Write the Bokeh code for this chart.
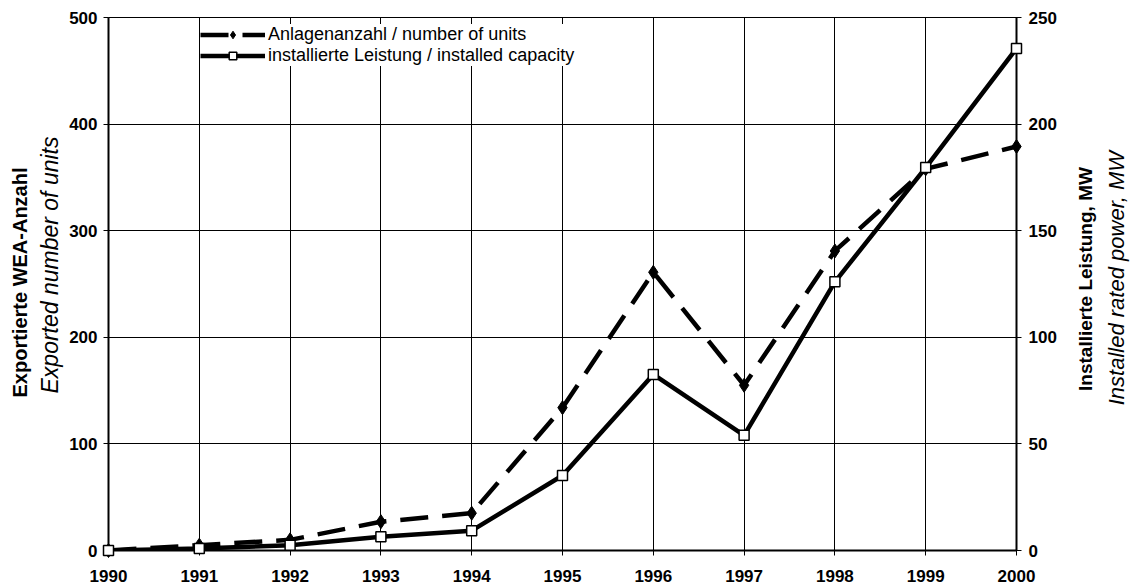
import math
from bokeh.plotting import figure
from bokeh.layouts import row
from bokeh.models import Range1d, LinearAxis, Legend, LegendItem, FixedTicker, Title, Label
from bokeh.embed import file_html
from bokeh.resources import INLINE

# ---- data ----
years = [1990, 1991, 1992, 1993, 1994, 1995, 1996, 1997, 1998, 1999, 2000]
units = [0, 5, 10, 27, 35, 134, 261, 155, 281, 358, 379]
capacity = [0, 0.9, 2.5, 6.4, 9.3, 35.2, 82.6, 54, 126, 179.6, 235.5]
left_ticks = [0, 100, 200, 300, 400, 500]
right_ticks = [0, 50, 100, 150, 200, 250]
label_units = "Anlagenanzahl / number of units"
label_capacity = "installierte Leistung / installed capacity"
left_title_de = "Exportierte WEA-Anzahl"
left_title_en = "Exported number of units"
right_title_de = "Installierte Leistung, MW"
right_title_en = "Installed rated power, MW"

FONT = "Liberation Sans"
TICK_FS = "17px"
W, H = 1131, 587
FL, FT, FW, FH = 108, 17, 908, 533   # frame position / size in page pixels
PW = 1062                             # width of the main figure; the rest holds right titles

p = figure(width=PW, height=H, output_backend="svg", toolbar_location=None,
           x_range=Range1d(years[0], years[-1]), y_range=Range1d(0, 500),
           min_border_left=FL, min_border_right=PW - FL - FW, min_border_top=FT,
           min_border_bottom=H - FT - FH)
p.extra_y_ranges = {"mw": Range1d(0, 250)}

# lines
r_units_line = p.line(years, units, line_color="black", line_width=4.5, line_dash="28 14")
r_units_pts = p.scatter(years, units, marker="diamond", size=14, fill_color="black",
                        line_color="black", level="overlay")
r_cap_line = p.line(years, capacity, y_range_name="mw", line_color="black", line_width=4.5)
r_cap_pts = p.scatter(years, capacity, y_range_name="mw", marker="square", size=10,
                      fill_color="white", line_color="black", line_width=1.5,
                      level="overlay")

# axes
xa = p.xaxis[0]
xa.ticker = FixedTicker(ticks=years)
ya = p.yaxis[0]
ya.ticker = FixedTicker(ticks=left_ticks)
ra = LinearAxis(y_range_name="mw", ticker=FixedTicker(ticks=right_ticks))
p.add_layout(ra, "right")
for ax in (xa, ya, ra):
    ax.major_label_text_font = FONT
    ax.major_label_text_font_size = TICK_FS
    ax.major_label_text_font_style = "bold"
    ax.major_label_text_color = "black"
    ax.axis_line_color = "black"
    ax.axis_line_width = 2
    ax.major_tick_line_color = "black"
    ax.major_tick_line_width = 1
    ax.major_tick_out = 5
    ax.major_tick_in = 0
    ax.minor_tick_line_color = None
ra.major_tick_in = 5
ya.major_label_standoff = 6
ra.major_label_standoff = 7
xa.major_label_standoff = 14

p.xgrid.ticker = FixedTicker(ticks=years)
p.ygrid.ticker = FixedTicker(ticks=left_ticks)
for g in (p.xgrid[0], p.ygrid[0]):
    g.grid_line_color = "black"
    g.grid_line_width = 1
p.outline_line_color = "black"
p.outline_line_width = 1

# left titles (inner italic, outer bold), measured from the frame bottom
p.add_layout(Title(text=left_title_en, align="left", offset=157, standoff=8,
                   text_font=FONT, text_font_size="23px", text_font_style="italic",
                   text_color="black"), "left")
p.add_layout(Title(text=left_title_de, align="left", offset=153, standoff=0,
                   text_font=FONT, text_font_size="20px", text_font_style="bold",
                   text_color="black"), "left")

legend = Legend(items=[LegendItem(label=label_units, renderers=[r_units_line, r_units_pts]),
                       LegendItem(label=label_capacity, renderers=[r_cap_line, r_cap_pts])],
                location=(92, 484), background_fill_color="white", background_fill_alpha=1,
                border_line_color=None, glyph_width=65, glyph_height=19, label_height=15,
                spacing=0, padding=6, margin=0, label_standoff=3,
                label_text_font=FONT, label_text_font_size="18px", label_text_color="black")
p.add_layout(legend)

# right-hand titles in a narrow companion figure
RW = W - PW
p2 = figure(width=RW, height=H, output_backend="svg", toolbar_location=None,
            x_range=Range1d(0, RW), y_range=Range1d(0, H),
            x_axis_location=None, y_axis_location=None, min_border=0)
p2.outline_line_color = None
p2.grid.visible = False

def rlabel(xp, yp, text, style, size):
    p2.add_layout(Label(x=xp - PW, y=H - yp, text=text, angle=math.pi / 2,
                        text_align="center", text_baseline="middle", text_font=FONT,
                        text_font_size=size, text_font_style=style, text_color="black"))

rlabel(1085, 288, right_title_de, "bold", "19px")
rlabel(1116, 287, right_title_en, "italic", "22px")

open("out.html", "w").write(file_html(row(p, p2), INLINE))
